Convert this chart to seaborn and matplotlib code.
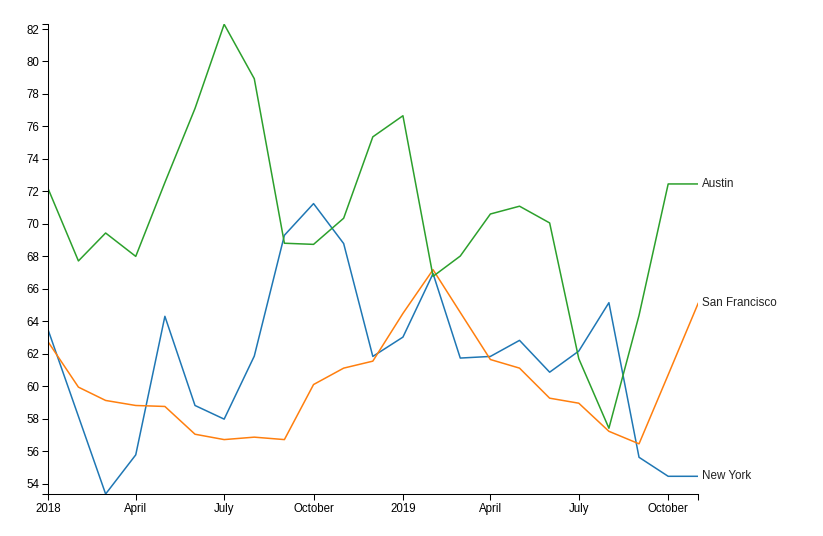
import pandas as pd
import numpy as np
import matplotlib
matplotlib.use("Agg")
import matplotlib.pyplot as plt
import matplotlib.dates as mdates
import seaborn as sns

# monthly values, Jan 2018 .. Nov 2019
months = pd.date_range("2018-01-01", "2019-11-01", freq="MS")

new_york = [63.44, 58.15, 53.37, 55.78, 64.31, 58.82, 57.98, 61.86, 69.30, 71.25, 68.79, 61.84,
            63.03, 66.94, 61.74, 61.84, 62.83, 60.87, 62.17, 65.15, 55.63, 54.46, 54.46]
san_francisco = [62.72, 59.95, 59.13, 58.82, 58.76, 57.05, 56.72, 56.87, 56.72, 60.11, 61.12, 61.55,
                 64.49, 67.18, 64.55, 61.65, 61.12, 59.27, 58.96, 57.23, 56.46, 60.71, 65.13]
austin = [72.14, 67.72, 69.44, 68.00, 72.55, 77.11, 82.29, 78.94, 68.81, 68.74, 70.35, 75.36,
          76.66, 66.77, 68.02, 70.61, 71.09, 70.06, 61.70, 57.42, 64.37, 72.46, 72.46]

cities = ["New York", "San Francisco", "Austin"]
colors = ["#1f77b4", "#ff7f0e", "#2ca02c"]

df = pd.DataFrame({
    "date": np.tile(months, 3),
    "temp": new_york + san_francisco + austin,
    "city": np.repeat(cities, len(months)),
})

sns.set_style("ticks")
plt.rcParams["font.family"] = ["Liberation Sans", "DejaVu Sans"]

fig = plt.figure(figsize=(8.23, 5.36), dpi=100)
ax = fig.add_axes([48.3 / 823, 1 - 494 / 536, (698.3 - 48.3) / 823, (494 - 24.3) / 536])

sns.lineplot(data=df, x="date", y="temp", hue="city", palette=dict(zip(cities, colors)),
             linewidth=1.1, legend=False, ax=ax)

ymin = min(new_york + san_francisco + austin)
ymax = max(new_york + san_francisco + austin)
ax.set_ylim(ymin, ymax)
ax.set_xlim(months[0], months[-1])

ax.set_yticks(np.arange(54, 83, 2))
ax.set_yticks([ymin, ymax], minor=True)
ax.xaxis.set_major_locator(mdates.MonthLocator(bymonth=[1, 4, 7, 10]))
ax.set_xticks([mdates.date2num(months[-1])], minor=True)


def fmt(x, pos=None):
    d = mdates.num2date(x)
    return str(d.year) if d.month == 1 else d.strftime("%B")


ax.xaxis.set_major_formatter(plt.FuncFormatter(fmt))

ax.tick_params(which="both", length=4.3, width=0.75, color="black", labelsize=8.3, pad=2.2,
               labelcolor="black")
ax.set_xlabel("")
ax.set_ylabel("")
for side in ["top", "right"]:
    ax.spines[side].set_visible(False)
for side in ["left", "bottom"]:
    ax.spines[side].set_linewidth(0.75)
    ax.spines[side].set_color("black")

# end-of-line labels
for name, vals in zip(cities, [new_york, san_francisco, austin]):
    ax.annotate(name, xy=(months[-1], vals[-1]), xytext=(3, 0), textcoords="offset points",
                va="center", ha="left", fontsize=8.4, color="#222222", annotation_clip=False)

fig.savefig("out.png", dpi=100)
